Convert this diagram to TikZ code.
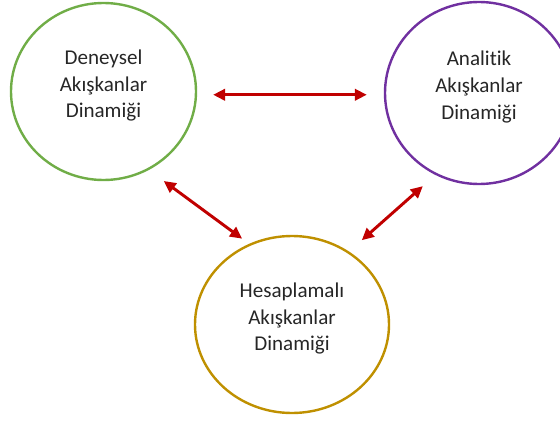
\documentclass[tikz,border=0pt]{standalone}
\usepackage{fontspec}
\setmainfont{Carlito}[Ligatures=NoCommon]
\usetikzlibrary{shapes.geometric}
\usetikzlibrary{arrows.meta}

\definecolor{dgreen}{HTML}{70AD47}
\definecolor{dpurple}{HTML}{7030A0}
\definecolor{dgold}{HTML}{BF9000}
\definecolor{dred}{HTML}{C00000}

\begin{document}
\begin{tikzpicture}[x=0.75pt,y=-0.75pt,
  blob/.style={ellipse,draw=#1,line width=1.8pt,inner sep=0pt},
  words/.style={align=center,font=\fontsize{15.8}{20}\selectfont,text=black!85,yshift=4.5pt},
  link/.style={draw=dred,line width=2.2pt,{Triangle[length=9pt,width=8.5pt]}-{Triangle[length=9pt,width=8.5pt]}}]
  \useasboundingbox (0,0) rectangle (560,421);
  % the three fields
  \node [blob=dgreen,minimum width=138.75pt,minimum height=132.75pt] (den) at (103.5,91.5) {};
  \node [words] (denT) at (den.center) {Deneysel\\Akışkanlar\\Dinamiği};
  \node [blob=dpurple,minimum width=141pt,minimum height=136.5pt] (ana) at (479,93) {};
  \node [words] (anaT) at (ana.center) {Analitik\\Akışkanlar\\Dinamiği};
  \node [blob=dgold,minimum width=145.5pt,minimum height=132.75pt] (hes) at (292,324.5) {};
  \node [words] (hesT) at (hes.center) {Hesaplamalı\\Akışkanlar\\Dinamiği};
  % links
  \draw [link,shorten <=12pt,shorten >=12.75pt] (den.-2) -- (den.-2 -| ana.west);
  \draw [link,shorten <=13.9pt,shorten >=6.5pt] (den.-60) -- (hes.118.6);
  \draw [link,shorten <=12.75pt,shorten >=12.6pt] (hes.52) -- (ana.-118.3);
\end{tikzpicture}
\end{document}
